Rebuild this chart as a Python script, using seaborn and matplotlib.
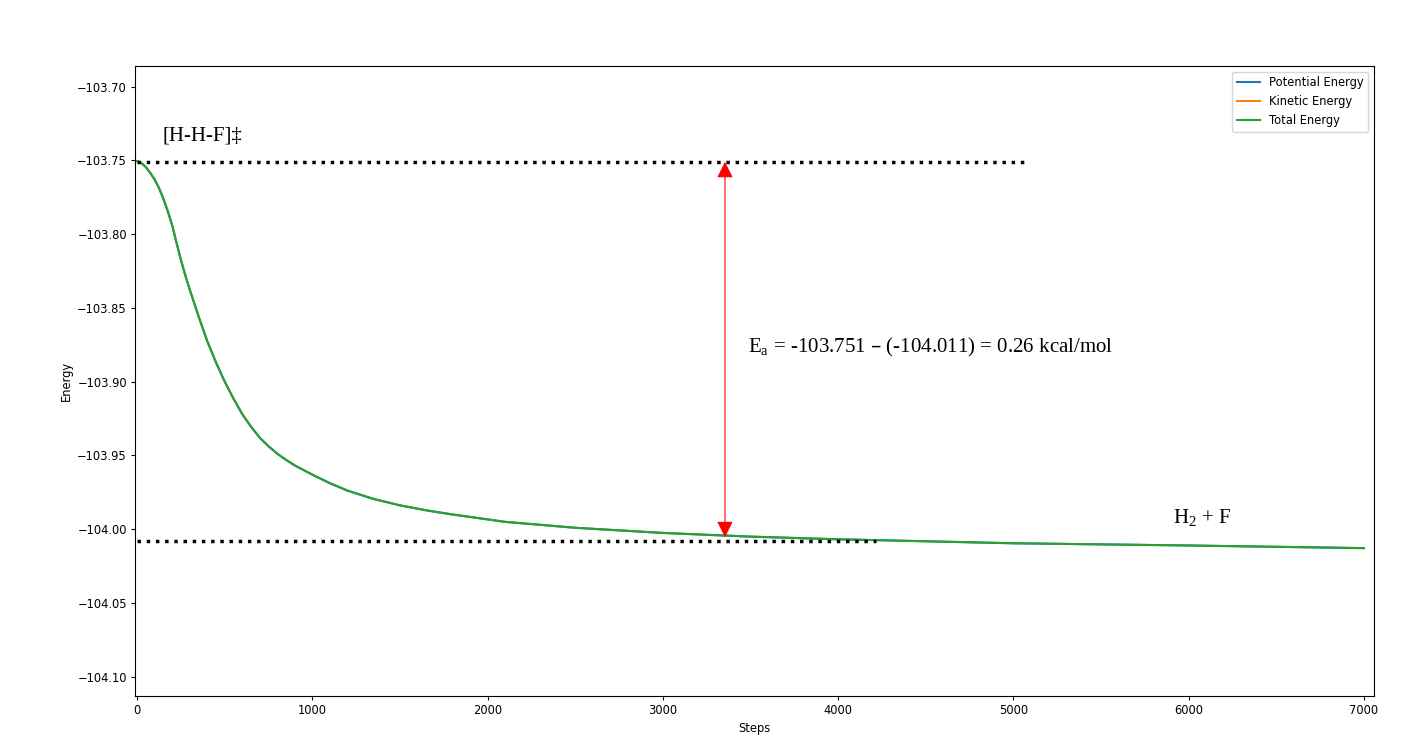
import matplotlib
matplotlib.use("Agg")
import matplotlib.pyplot as plt
import seaborn as sns
import pandas as pd

steps = [0, 25, 50, 75, 100, 125, 150, 175, 200, 225, 250, 275, 300, 350, 400, 450,
         500, 550, 600, 650, 700, 750, 800, 850, 900, 1000, 1100, 1200, 1350, 1500,
         1650, 1800, 2100, 2500, 3000, 3500, 4000, 5000, 6000, 7000]
total_energy = [-103.7505, -103.7518, -103.7546, -103.7585, -103.7630, -103.7688,
                -103.7760, -103.7845, -103.7940, -103.8060, -103.8175, -103.8280,
                -103.8375, -103.8555, -103.8725, -103.8870, -103.9000, -103.9115,
                -103.9220, -103.9305, -103.9380, -103.9438, -103.9488, -103.9530,
                -103.9568, -103.9630, -103.9688, -103.9738, -103.9795, -103.9838,
                -103.9872, -103.9900, -103.9950, -103.9990, -104.0025, -104.0050,
                -104.0068, -104.0095, -104.0110, -104.0128]
potential_energy = list(total_energy)
kinetic_energy = [0.0] * len(steps)

ts_level = -103.751
prod_level = -104.008
ts_line_end = 5065
prod_line_end = 4215
arrow_x = 3354
arrow_bottom = -104.0054

plt.rcParams["font.size"] = 8.3

fig = plt.figure(figsize=(14.14, 7.49), dpi=100)
ax = fig.add_axes([0.0955, 0.0708, 0.8762, 0.8411])

df = pd.DataFrame({"Steps": steps, "Potential": potential_energy,
                   "Kinetic": kinetic_energy, "Total": total_energy})
pal = sns.color_palette("tab10")
sns.lineplot(data=df, x="Steps", y="Potential", ax=ax, color=pal[0], label="Potential Energy", lw=1.5)
sns.lineplot(data=df, x="Steps", y="Kinetic", ax=ax, color=pal[1], label="Kinetic Energy", lw=1.5)
sns.lineplot(data=df, x="Steps", y="Total", ax=ax, color=pal[2], label="Total Energy", lw=1.5)

ax.hlines(ts_level, 0, ts_line_end, colors="black", linestyles=":", lw=2.5)
ax.hlines(prod_level, 0, prod_line_end, colors="black", linestyles=":", lw=2.5)

ax.annotate("", xy=(arrow_x, ts_level), xytext=(arrow_x, arrow_bottom),
            arrowprops=dict(arrowstyle="<|-|>,head_length=0.7,head_width=0.35",
                            color="red", lw=0.8, shrinkA=0, shrinkB=0, mutation_scale=14))

ax.text(143, -103.7335, "[H-H-F]‡", fontsize=15, family="Liberation Serif", va="center", ha="left")
ax.text(3485, -103.8765, "E$_\\mathregular{a}$ = -103.751 \u2013 (-104.011) = 0.26 kcal/mol",
        fontsize=15, family="Liberation Serif", va="center", ha="left")
ax.text(5909, -103.9925, r"H$_\mathregular{2}$ + F", fontsize=15, family="Liberation Serif",
        va="center", ha="left")

ax.set_xlim(-12, 7057)
ax.set_ylim(-104.113, -103.686)
ax.set_xticks([0, 1000, 2000, 3000, 4000, 5000, 6000, 7000])
ax.set_yticks([-104.10, -104.05, -104.00, -103.95, -103.90, -103.85, -103.80, -103.75, -103.70])
ax.yaxis.set_major_formatter(matplotlib.ticker.FuncFormatter(
    lambda v, p: ("\u2212%.2f" % abs(v)) if v < 0 else "%.2f" % v))
ax.tick_params(labelsize=8.3, length=2.9, pad=2.9)
ax.set_xlabel("Steps", fontsize=8.3, labelpad=3.3)
ax.set_ylabel("Energy", fontsize=8.3, labelpad=3.3)
ax.legend(loc="upper right", fontsize=8.3)

fig.savefig("out.png", dpi=100)
